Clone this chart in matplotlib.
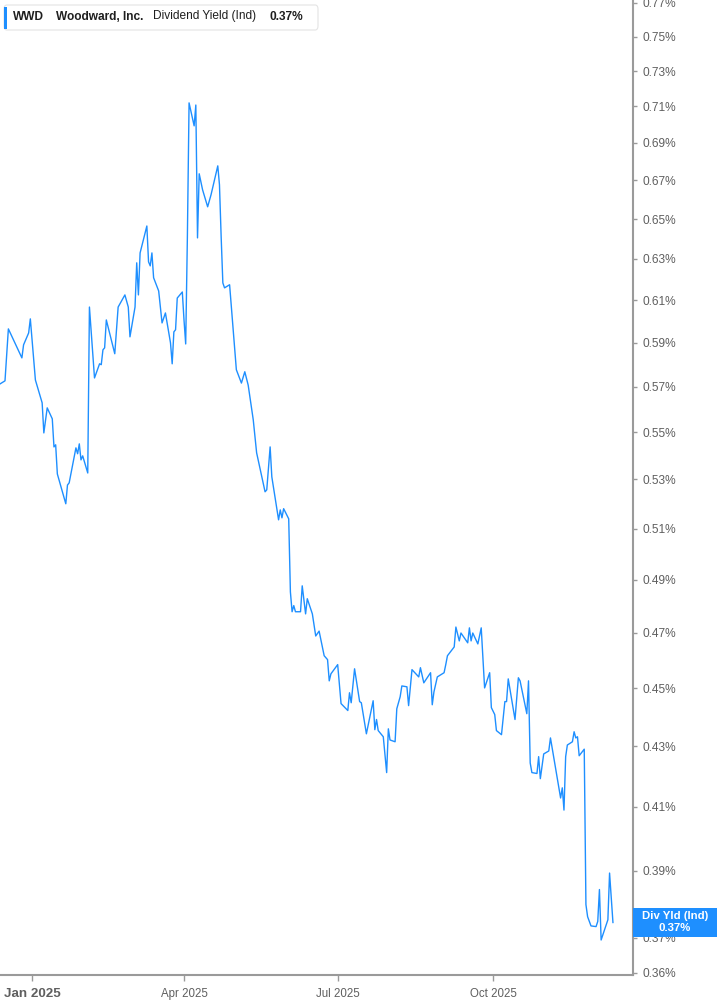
import numpy as np
import pandas as pd
import matplotlib
matplotlib.use('Agg')
import matplotlib.pyplot as plt
from matplotlib.patches import FancyBboxPatch, Rectangle
from matplotlib.ticker import FixedLocator, NullLocator, FixedFormatter

#----------------------------------------------------------------------
# data: WWD dividend yield (ind), %
ticker   = 'WWD'
company  = 'Woodward, Inc.'
metric   = 'Dividend Yield (Ind)'
short    = 'Div Yld (Ind)'

dates = [
    '2024-12-13', '2024-12-16', '2024-12-18', '2024-12-26', '2024-12-27', '2024-12-30', '2024-12-31',
    '2025-01-03', '2025-01-07', '2025-01-08', '2025-01-10', '2025-01-13', '2025-01-14', '2025-01-15',
    '2025-01-16', '2025-01-21', '2025-01-22', '2025-01-23', '2025-01-27', '2025-01-28', '2025-01-29',
    '2025-01-30', '2025-01-31', '2025-02-03', '2025-02-04', '2025-02-07', '2025-02-10', '2025-02-11',
    '2025-02-12', '2025-02-13', '2025-02-14', '2025-02-19', '2025-02-21', '2025-02-25', '2025-02-27',
    '2025-02-28', '2025-03-03', '2025-03-04', '2025-03-05', '2025-03-06', '2025-03-10', '2025-03-11',
    '2025-03-12', '2025-03-13', '2025-03-14', '2025-03-17', '2025-03-19', '2025-03-21', '2025-03-24',
    '2025-03-25', '2025-03-26', '2025-03-27', '2025-03-28', '2025-03-31', '2025-04-01', '2025-04-02',
    '2025-04-03', '2025-04-04', '2025-04-07', '2025-04-08', '2025-04-09', '2025-04-10', '2025-04-12',
    '2025-04-15', '2025-04-17', '2025-04-21', '2025-04-22', '2025-04-23', '2025-04-24', '2025-04-25',
    '2025-04-28', '2025-05-02', '2025-05-05', '2025-05-07', '2025-05-09', '2025-05-12', '2025-05-14',
    '2025-05-19', '2025-05-20', '2025-05-22', '2025-05-23', '2025-05-27', '2025-05-28', '2025-05-29',
    '2025-05-30', '2025-06-02', '2025-06-03', '2025-06-04', '2025-06-05', '2025-06-06', '2025-06-09',
    '2025-06-10', '2025-06-12', '2025-06-13', '2025-06-16', '2025-06-18', '2025-06-20', '2025-06-23',
    '2025-06-25', '2025-06-26', '2025-06-27', '2025-07-01', '2025-07-03', '2025-07-07', '2025-07-08',
    '2025-07-09', '2025-07-11', '2025-07-14', '2025-07-15', '2025-07-18', '2025-07-22', '2025-07-23',
    '2025-07-24', '2025-07-25', '2025-07-28', '2025-07-30', '2025-07-31', '2025-08-01', '2025-08-04',
    '2025-08-05', '2025-08-07', '2025-08-08', '2025-08-11', '2025-08-12', '2025-08-14', '2025-08-18',
    '2025-08-19', '2025-08-21', '2025-08-25', '2025-08-26', '2025-08-27', '2025-08-29', '2025-09-02',
    '2025-09-03', '2025-09-04', '2025-09-08', '2025-09-09', '2025-09-11', '2025-09-12', '2025-09-16',
    '2025-09-17', '2025-09-18', '2025-09-19', '2025-09-22', '2025-09-24', '2025-09-26', '2025-09-29',
    '2025-09-30', '2025-10-02', '2025-10-03', '2025-10-06', '2025-10-08', '2025-10-09', '2025-10-10',
    '2025-10-14', '2025-10-16', '2025-10-17', '2025-10-21', '2025-10-22', '2025-10-23', '2025-10-24',
    '2025-10-27', '2025-10-28', '2025-10-29', '2025-10-31', '2025-11-03', '2025-11-04', '2025-11-10',
    '2025-11-11', '2025-11-12', '2025-11-13', '2025-11-14', '2025-11-17', '2025-11-18', '2025-11-19',
    '2025-11-20', '2025-11-21', '2025-11-24', '2025-11-25', '2025-11-26', '2025-11-28', '2025-12-01',
    '2025-12-02', '2025-12-03', '2025-12-04', '2025-12-08', '2025-12-09', '2025-12-11',
]

yields = [
    0.5712, 0.5726, 0.5964, 0.5830, 0.5890, 0.5945, 0.6011,
    0.5730, 0.5628, 0.5497, 0.5606, 0.5558, 0.5437, 0.5446,
    0.5323, 0.5200, 0.5277, 0.5286, 0.5433, 0.5408, 0.5450,
    0.5382, 0.5399, 0.5327, 0.6067, 0.5739, 0.5803, 0.5799,
    0.5867, 0.5876, 0.6006, 0.5849, 0.6067, 0.6125, 0.6067,
    0.5927, 0.6067, 0.6281, 0.6125, 0.6330, 0.6465, 0.6286,
    0.6266, 0.6330, 0.6208, 0.6144, 0.5992, 0.6039, 0.5899,
    0.5803, 0.5950, 0.5960, 0.6110, 0.6139, 0.6006, 0.5894,
    0.6410, 0.7120, 0.6993, 0.7108, 0.6405, 0.6735, 0.6651,
    0.6563, 0.6625, 0.6777, 0.6677, 0.6410, 0.6183, 0.6159,
    0.6174, 0.5776, 0.5716, 0.5767, 0.5707, 0.5554, 0.5412,
    0.5249, 0.5257, 0.5437, 0.5311, 0.5135, 0.5175, 0.5143,
    0.5180, 0.5139, 0.4853, 0.4778, 0.4801, 0.4778, 0.4778,
    0.4876, 0.4770, 0.4827, 0.4770, 0.4688, 0.4706, 0.4616,
    0.4602, 0.4526, 0.4551, 0.4584, 0.4446, 0.4422, 0.4484,
    0.4449, 0.4569, 0.4453, 0.4449, 0.4342, 0.4456, 0.4356,
    0.4391, 0.4353, 0.4332, 0.4212, 0.4359, 0.4321, 0.4315,
    0.4428, 0.4470, 0.4508, 0.4505, 0.4439, 0.4566, 0.4540,
    0.4573, 0.4519, 0.4555, 0.4442, 0.4487, 0.4540, 0.4555,
    0.4584, 0.4616, 0.4648, 0.4721, 0.4670, 0.4699, 0.4663,
    0.4718, 0.4670, 0.4699, 0.4659, 0.4718, 0.4501, 0.4555,
    0.4432, 0.4408, 0.4353, 0.4339, 0.4453, 0.4453, 0.4533,
    0.4391, 0.4537, 0.4526, 0.4411, 0.4526, 0.4244, 0.4212,
    0.4209, 0.4265, 0.4192, 0.4274, 0.4284, 0.4328, 0.4129,
    0.4162, 0.4090, 0.4265, 0.4304, 0.4315, 0.4349, 0.4328,
    0.4332, 0.4268, 0.4290, 0.3798, 0.3762, 0.3735, 0.3733,
    0.3748, 0.3843, 0.3694, 0.3753, 0.3893, 0.3745,
]

yTicks      = [0.36, 0.37, 0.39, 0.41, 0.43, 0.45, 0.47, 0.49, 0.51, 0.53, 0.55,
               0.57, 0.59, 0.61, 0.63, 0.65, 0.67, 0.69, 0.71, 0.73, 0.75, 0.77]
xTickDates  = ['2025-01-01', '2025-04-01', '2025-07-01', '2025-10-01']
xTickLabels = ['Jan 2025', 'Apr 2025', 'Jul 2025', 'Oct 2025']
#----------------------------------------------------------------------

dates = pd.to_datetime(dates)
blue  = '#1e8fff'
grey  = '#9a9a9a'
W, H  = 717, 1005

plt.rcParams['font.family'] = ['Liberation Sans', 'DejaVu Sans']

fig = plt.figure(figsize=(W / 100, H / 100), dpi=100)
fig.patch.set_facecolor('white')
ax = fig.add_axes([0, 1 - 975 / H, 633 / W, 975 / H])

ax.plot(dates, yields, color=blue, lw=1.0, solid_joinstyle='round')

ax.set_yscale('log')
ax.set_ylim(0.3594, 0.7718)
ax.set_xlim(pd.Timestamp('2024-12-13 01:00'), pd.Timestamp('2025-12-22 21:00'))

ax.yaxis.set_major_locator(FixedLocator(yTicks))
ax.yaxis.set_minor_locator(NullLocator())
ax.yaxis.set_major_formatter(FixedFormatter(['%.2f%%' % t for t in yTicks]))
ax.yaxis.tick_right()
ax.tick_params(axis='y', which='major', direction='out', length=3, width=1,
               color=grey, labelcolor='#5f5f5f', labelsize=8.6, pad=4)

ax.set_xticks(pd.to_datetime(xTickDates))
ax.set_xticklabels(xTickLabels)
ax.xaxis.set_minor_locator(NullLocator())
ax.tick_params(axis='x', direction='out', length=4, width=1, color=grey,
               labelcolor='#5f5f5f', labelsize=8.3, pad=5)
first = ax.get_xticklabels()[0]
first.set_fontweight('bold')
first.set_fontsize(9.6)

for side in ['left', 'top']:
    ax.spines[side].set_visible(False)
for side in ['right', 'bottom']:
    ax.spines[side].set_color(grey)
    ax.spines[side].set_linewidth(1.5)

#legend header box
def fx(x): return x / W
def fy(y): return 1 - y / H

box = FancyBboxPatch((fx(4), fy(30)), fx(314), 25 / H, boxstyle='round,pad=0,rounding_size=0.004',
                     transform=fig.transFigure, facecolor='white', edgecolor='#e4e4e4', lw=0.8, zorder=5)
fig.add_artist(box)
fig.add_artist(Rectangle((fx(4), fy(29)), fx(3), 22 / H, transform=fig.transFigure,
                         facecolor=blue, edgecolor='none', zorder=6))
ty = fy(16.5)
fig.text(fx(13), ty, ticker, fontsize=8.6, fontweight='bold', color='#1f1f1f', va='center', zorder=7)
fig.text(fx(56), ty, company, fontsize=8.6, fontweight='bold', color='#1f1f1f', va='center', zorder=7)
fig.text(fx(153), ty, metric, fontsize=8.6, color='#1f1f1f', va='center', zorder=7)
fig.text(fx(270), ty, '%.2f%%' % yields[-1], fontsize=8.6, fontweight='bold', color='#1f1f1f',
         va='center', zorder=7)

#last value tag on the axis
lastDisp = ax.transData.transform((ax.convert_xunits(dates[-1]), yields[-1]))
_, lastY = fig.transFigure.inverted().transform(lastDisp)
tagH = 29 / H
fig.add_artist(Rectangle((fx(633), lastY - tagH / 2), fx(84), tagH, transform=fig.transFigure,
                         facecolor=blue, edgecolor='none', zorder=8))
fig.text(fx(675), lastY + 6 / H, short, fontsize=8.2, fontweight='bold', color='white',
         ha='center', va='center', zorder=9)
fig.text(fx(675), lastY - 6 / H, '%.2f%%' % yields[-1], fontsize=8.2, fontweight='bold', color='white',
         ha='center', va='center', zorder=9)

fig.savefig('out.png', dpi=100, facecolor='white')
